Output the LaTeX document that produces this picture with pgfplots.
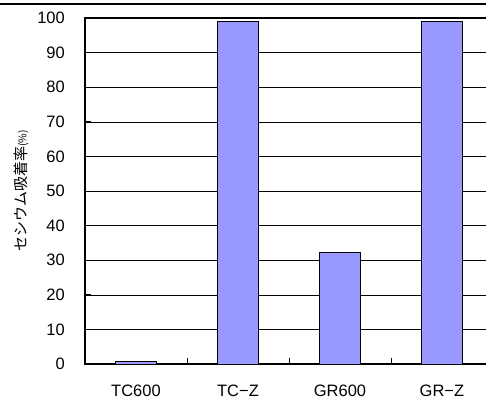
\documentclass[border=0pt]{standalone}
\usepackage{fontspec}
\setmainfont{Liberation Sans}
\newfontfamily\jp{Noto Sans CJK JP}
\usepackage{pgfplots}
\pgfplotsset{compat=1.18}
\definecolor{barblue}{RGB}{153,153,255}
\begin{document}
\fontsize{16}{19}\selectfont
\begin{tikzpicture}
\path[use as bounding box] (0,0) rectangle (486pt,400pt);
\draw[line width=2pt] (0,396pt) -- (486pt,396pt);
\begin{axis}[
  ybar, bar width=41pt,
  at={(85pt,36pt)}, anchor=south west,
  scale only axis, width=410pt, height=346pt,
  xmin=-0.5, xmax=3.52, ymin=0, ymax=100,
  ytick={0,10,...,100},
  xtick={0,1,2,3},
  xticklabels={TC600,TC−Z,GR600,GR−Z},
  minor xtick={0.5,1.5,2.5},
  xtick pos=left, ytick pos=left,
  tick align=inside,
  major tick length=6pt,
  tick style={black, line width=0.8pt},
  major x tick style={draw=none, /pgfplots/major tick length=0pt},
  minor x tick style={draw=black, line width=0.9pt, /pgfplots/minor tick length=6pt},
  axis line style={black, line width=1.6pt},
  ymajorgrids,
  major grid style={black, line width=0.6pt},
  /pgf/number format/assume math mode=true,
  tick label style={font=\fontsize{16.5}{19}\selectfont},
  yticklabel style={anchor=east, inner sep=0pt, xshift=-20pt},
  xticklabel style={anchor=north, inner sep=0pt, yshift=-21pt},
  ylabel={{\jp\fontsize{15}{17}\selectfont セシウム吸着率{\fontsize{10.5}{12}\selectfont (\%)}}},
  every axis y label/.style={at={(axis description cs:-0.156,0.5)}, rotate=90, anchor=center},
]
\addplot[fill=barblue, draw=black, line width=0.8pt] coordinates {(0,0.7) (1,99) (2,32.3) (3,99)};
\end{axis}
\end{tikzpicture}
\end{document}
